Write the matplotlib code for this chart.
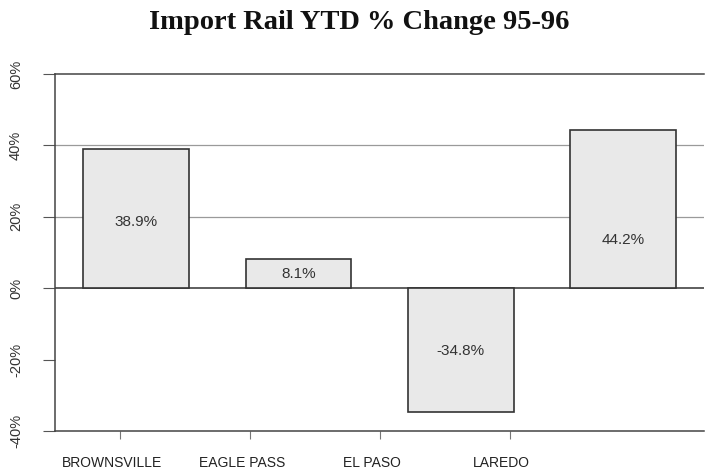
import numpy as np
import matplotlib
matplotlib.use("Agg")
from matplotlib import pyplot as plt
from matplotlib.transforms import ScaledTranslation

# data
ports = ["BROWNSVILLE", "EAGLE PASS", "EL PASO", "LAREDO"]
pct_change = [38.9, 8.1, -34.8, 44.2]
bar_labels = ["38.9%", "8.1%", "-34.8%", "44.2%"]
label_y = [18.5, 3.9, -17.5, 13.5]
yticks = [-40, -20, 0, 20, 40, 60]

plt.rcParams["font.family"] = ["Liberation Sans", "DejaVu Sans"]

fig = plt.figure(figsize=(7.05, 4.71), dpi=100)
ax = fig.add_axes([0.078, 0.085, 0.921, 0.758])

x = np.arange(len(ports))
ax.bar(x, pct_change, width=0.65, color="#e9e9e9", edgecolor="#333333",
       linewidth=1.2, zorder=3)

for xi, lab, ly in zip(x, bar_labels, label_y):
    ax.text(xi, ly, lab, ha="center", va="center", fontsize=11,
            color="#333333", zorder=4)

ax.set_xlim(-0.5, 3.5)
ax.set_ylim(-40, 60)

# grid
for yv in yticks:
    if yv == 0:
        ax.axhline(yv, color="#333333", lw=1.1, zorder=2)
    elif yv in (20, 40):
        ax.axhline(yv, color="#9a9a9a", lw=0.9, zorder=1)

# category labels sit a little left of the bars, like the scanned original
label_x = [-0.1, 0.7, 1.5, 2.3]
ax.set_xticks(label_x)
ax.set_xticklabels(ports, fontsize=10, color="#222222")
ax.tick_params(axis="x", length=6, pad=12, color="#777777")
shift = ScaledTranslation(-8 / 100, 0, fig.dpi_scale_trans)
for t in ax.get_xticklabels():
    t.set_transform(t.get_transform() + shift)

ax.set_yticks(yticks)
ax.set_yticklabels([f"{v}%" for v in yticks], rotation=90, va="center",
                   fontsize=10.5, color="#333333")
ax.tick_params(axis="y", length=9, width=0.8, pad=14, color="#555555")

for side in ["left", "bottom", "top", "right"]:
    ax.spines[side].set_color("#444444")
    ax.spines[side].set_linewidth(1.1)
ax.spines["right"].set_visible(False)

fig.text(0.51, 0.953, "Import Rail YTD % Change 95-96", ha="center",
         va="center", fontsize=20.5, fontweight="bold",
         family="Liberation Serif", color="#111111")

fig.savefig("out.png", dpi=100)
